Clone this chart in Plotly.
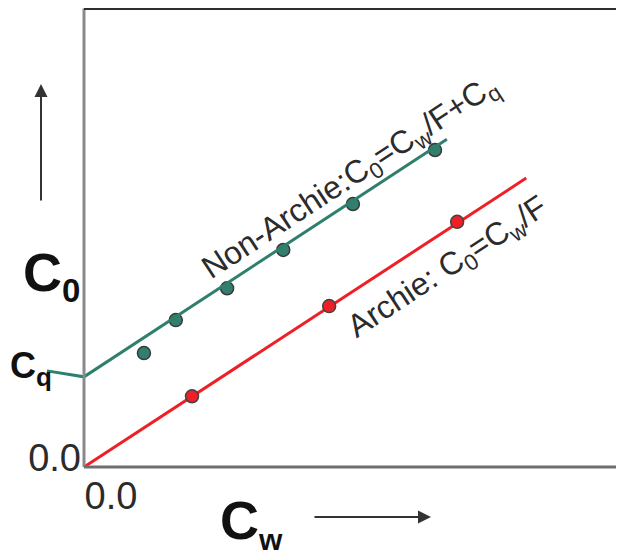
import plotly.graph_objects as go

# ---- data (arbitrary units) ----
archie_line_x = [0.0, 8.19]
archie_line_y = [0.0, 5.35]
archie_pts_x = [2.00, 4.54, 6.91]
archie_pts_y = [1.31, 2.98, 4.54]

nonarchie_line_x = [-0.685, 0.0, 6.72]
nonarchie_line_y = [1.78, 1.67, 6.07]
nonarchie_pts_x = [1.11, 1.70, 2.65, 3.69, 4.98, 6.50]
nonarchie_pts_y = [2.11, 2.72, 3.31, 4.02, 4.87, 5.87]

tick_vals = [0]
tick_text = ["0.0"]

W, H = 624, 552
OFF = 8  # page body margin in the browser
GREEN = "#2f7f6d"
GREEN_PT = "#327f6e"
RED = "#ee1f26"
TXT = "#2b2b2b"
FONT = "Liberation Sans, Arial, sans-serif"


def px(sx):
    return (sx - OFF) / W


def py(sy):
    return 1 - (sy - OFF) / H


fig = go.Figure()

# non-archie line on full-width overlay axes (so the Cq stub outside the box shows)
fig.add_trace(go.Scatter(x=nonarchie_line_x, y=nonarchie_line_y, mode="lines",
                         line=dict(color=GREEN, width=3), xaxis="x2", yaxis="y2",
                         hoverinfo="skip", showlegend=False))
fig.add_trace(go.Scatter(x=archie_line_x, y=archie_line_y, mode="lines",
                         line=dict(color=RED, width=3), showlegend=False))
fig.add_trace(go.Scatter(x=nonarchie_pts_x, y=nonarchie_pts_y, mode="markers",
                         marker=dict(color=GREEN_PT, size=13, line=dict(color="#3a3a3a", width=1.5)),
                         showlegend=False, cliponaxis=False))
fig.add_trace(go.Scatter(x=archie_pts_x, y=archie_pts_y, mode="markers",
                         marker=dict(color=RED, size=13, line=dict(color="#444", width=1.5)),
                         showlegend=False, cliponaxis=False))

left_s, bottom_s = 84, 467   # screen position of the origin
unit = 54.0
xdom = [px(left_s), 1.0]
ydom = [py(bottom_s), 1.0]
xr = [0, (W - (left_s - OFF)) / unit]
yr = [0, (bottom_s - OFF) / unit]

ann = []
# rotated labels
ann.append(dict(x=4.93, y=5.35, xref="x", yref="y", showarrow=False, textangle=-33.2,
                text="Non-Archie:C<sub>0</sub>=C<sub>w</sub>/F+C<sub>q</sub>",
                font=dict(size=32, color=TXT, family=FONT)))
ann.append(dict(x=6.74, y=3.68, xref="x", yref="y", showarrow=False, textangle=-33.2,
                text="Archie: C<sub>0</sub>=C<sub>w</sub>/F",
                font=dict(size=32, color=TXT, family=FONT)))
# big axis symbols
ann.append(dict(x=px(21), y=py(276), xref="paper", yref="paper", xanchor="left", yanchor="middle",
                showarrow=False, text="<b>C<sub><span style='font-size:33px'>0</span></sub></b>",
                font=dict(size=54, color="#111", family=FONT)))
ann.append(dict(x=px(8), y=py(368), xref="paper", yref="paper", xanchor="left", yanchor="middle",
                showarrow=False, text="<b>C<sub><span style='font-size:26px'>q</span></sub></b>",
                font=dict(size=36, color="#111", family=FONT)))
ann.append(dict(x=px(218), y=py(523), xref="paper", yref="paper", xanchor="left", yanchor="middle",
                showarrow=False, text="<b>C<sub><span style='font-size:30px'>w</span></sub></b>",
                font=dict(size=54, color="#111", family=FONT)))
# arrows
ann.append(dict(x=px(41), y=py(84), xref="paper", yref="paper", ax=0, ay=118,
                axref="pixel", ayref="pixel", showarrow=True, arrowhead=2, arrowsize=1.3,
                arrowwidth=2, arrowcolor="#333", text=""))
ann.append(dict(x=px(431), y=py(517), xref="paper", yref="paper", ax=-118, ay=0,
                axref="pixel", ayref="pixel", showarrow=True, arrowhead=2, arrowsize=1.3,
                arrowwidth=2, arrowcolor="#333", text=""))

# frame
top_y = 1 - 0.5 / H
shapes = [
    dict(type="line", xref="paper", yref="paper", x0=xdom[0], x1=xdom[0], y0=ydom[0], y1=top_y,
         line=dict(color="#8a8a8a", width=3)),
    dict(type="line", xref="paper", yref="paper", x0=xdom[0], x1=1.0, y0=ydom[0], y1=ydom[0],
         line=dict(color="#6e6e6e", width=3)),
    dict(type="line", xref="paper", yref="paper", x0=xdom[0], x1=1.0, y0=top_y, y1=top_y,
         line=dict(color="#2e2e2e", width=3)),
]

fig.update_layout(
    width=W, height=H,
    margin=dict(l=0, r=0, t=0, b=0, autoexpand=False),
    paper_bgcolor="white", plot_bgcolor="rgba(0,0,0,0)",
    showlegend=False,
    font=dict(family=FONT, color=TXT),
    xaxis=dict(domain=xdom, range=xr, showgrid=False, zeroline=False, automargin=False,
               showline=False, tickvals=tick_vals, ticktext=tick_text, ticks="",
               tickfont=dict(size=38, color=TXT), ticklabelshift=27, ticklabelstandoff=3),
    yaxis=dict(domain=ydom, range=yr, showgrid=False, zeroline=False, automargin=False,
               showline=False, tickvals=tick_vals, ticktext=tick_text, ticks="",
               tickfont=dict(size=38, color=TXT), ticklabelshift=-9, ticklabelstandoff=2),
    xaxis2=dict(domain=[0, 1], range=[-(left_s - OFF) / unit, (W - (left_s - OFF)) / unit],
                visible=False, anchor="y2", automargin=False),
    yaxis2=dict(domain=ydom, range=yr, visible=False, anchor="x2", automargin=False),
    annotations=ann,
    shapes=shapes,
)

# the figure runs off the window's right/bottom edge like the reference; hide page scrollbars
fig.write_html("out.html",
               post_script="document.documentElement.style.overflow='hidden';"
                           "document.body.style.overflow='hidden';")
